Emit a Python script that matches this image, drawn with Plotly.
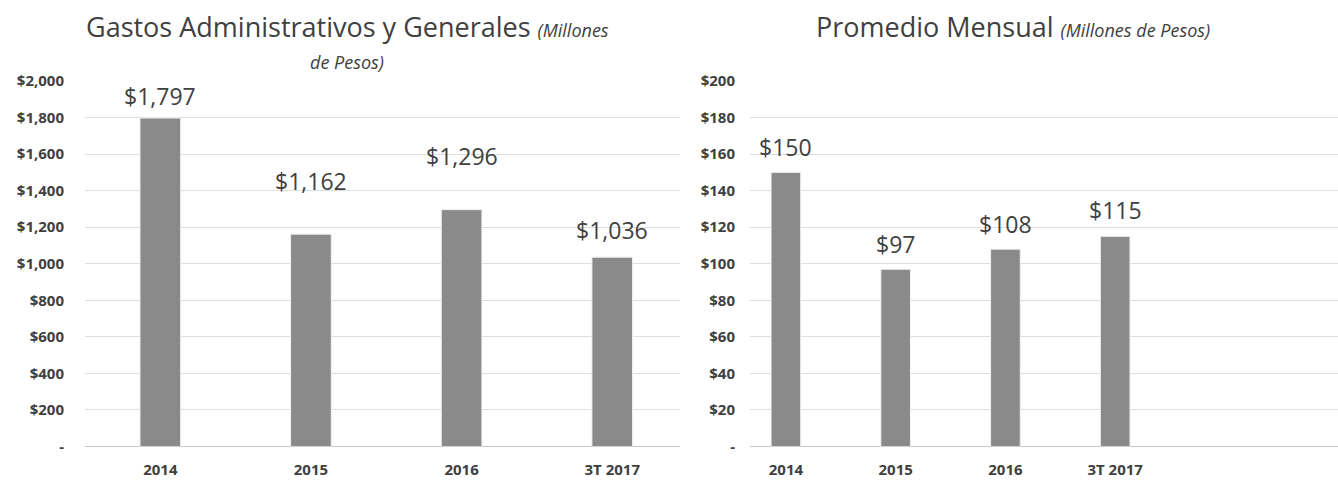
import plotly.graph_objects as go

# data
periods = ['2014', '2015', '2016', '3T 2017']
gastos = [1797, 1162, 1296, 1036]
promedio = [150, 97, 108, 115]
gastos_labels = ['$1,797', '$1,162', '$1,296', '$1,036']
promedio_labels = ['$150', '$97', '$108', '$115']

gastos_ticks = [0, 200, 400, 600, 800, 1000, 1200, 1400, 1600, 1800, 2000]
gastos_ticktext = ['-', '$200', '$400', '$600', '$800', '$1,000', '$1,200',
                   '$1,400', '$1,600', '$1,800', '$2,000']
promedio_ticks = [0, 20, 40, 60, 80, 100, 120, 140, 160, 180, 200]
promedio_ticktext = ['-', '$20', '$40', '$60', '$80', '$100', '$120',
                     '$140', '$160', '$180', '$200']

BAR = '#8a8a8a'
TEXT = '#404040'
GRID = '#dedede'
FONT = 'Open Sans'

fig = go.Figure()
fig.add_trace(go.Bar(x=periods, y=gastos, marker_color=BAR,
                     marker_line=dict(color='#f0f0f0', width=1),
                     xaxis='x', yaxis='y', showlegend=False))
fig.add_trace(go.Bar(x=periods, y=promedio, marker_color=BAR,
                     marker_line=dict(color='#f0f0f0', width=1),
                     xaxis='x2', yaxis='y2', showlegend=False))

# value labels (pixel offsets above the bar tops, as in the reference)
left_shift = [22, 53, 54, 27]
right_shift = [25, 25, 25, 26]
annotations = []
for i, (v, t, s) in enumerate(zip(gastos, gastos_labels, left_shift)):
    annotations.append(dict(x=i, y=v, xref='x', yref='y', text=t, showarrow=False,
                            yanchor='middle', yshift=s,
                            font=dict(size=23, color=TEXT, family=FONT)))
for i, (v, t, s) in enumerate(zip(promedio, promedio_labels, right_shift)):
    annotations.append(dict(x=i, y=v, xref='x2', yref='y2', text=t, showarrow=False,
                            yanchor='middle', yshift=s,
                            font=dict(size=23, color=TEXT, family=FONT)))

# titles
title_font = dict(size=27, color=TEXT, family=FONT)
annotations.append(dict(
    x=347 / 1338, y=1 - 16 / 480, xref='paper', yref='paper', showarrow=False,
    xanchor='center', yanchor='middle',
    text="Gastos Administrativos y Generales <i><span style='font-size:18px'>(Millones</span></i>",
    font=title_font))
annotations.append(dict(
    x=347 / 1338, y=1 - 53 / 480, xref='paper', yref='paper', showarrow=False,
    xanchor='center', yanchor='middle',
    text="<i>de Pesos)</i>",
    font=dict(size=18, color=TEXT, family=FONT)))
annotations.append(dict(
    x=1013 / 1338, y=1 - 16 / 480, xref='paper', yref='paper', showarrow=False,
    xanchor='center', yanchor='middle',
    text="Promedio Mensual <i><span style='font-size:18px'>(Millones de Pesos)</span></i>",
    font=title_font))

ydom = [(480 - 454.5) / 480, (480 - 73) / 480]
tickfont = dict(size=15, color=TEXT, family=FONT, weight='bold')

fig.update_layout(
    width=1338, height=480,
    margin=dict(l=0, r=0, t=0, b=0),
    plot_bgcolor='white', paper_bgcolor='white',
    bargap=0.73,
    annotations=annotations,
    xaxis=dict(type='category', domain=[85 / 1338, 680 / 1338], range=[-0.5, 3.45],
               showgrid=False, tickfont=tickfont, ticks='', ticklabelstandoff=12,
               showline=False),
    yaxis=dict(domain=ydom, range=[0, 2000], tickvals=gastos_ticks,
               ticktext=gastos_ticktext, gridcolor=GRID, gridwidth=1,
               zeroline=True, zerolinecolor='#c8c8c8', zerolinewidth=1,
               tickfont=tickfont, ticklabelstandoff=20),
    xaxis2=dict(type='category', domain=[750 / 1338, 1], range=[-0.327, 5.03], anchor='y2',
                showgrid=False, tickfont=tickfont, ticks='', ticklabelstandoff=12,
                showline=False),
    yaxis2=dict(domain=ydom, range=[0, 200], anchor='x2', tickvals=promedio_ticks,
                ticktext=promedio_ticktext, gridcolor=GRID, gridwidth=1,
                zeroline=True, zerolinecolor='#c8c8c8', zerolinewidth=1,
                tickfont=tickfont, ticklabelstandoff=14),
)

fig.write_html("out.html", config={'displayModeBar': False},
               post_script="document.body.style.margin='0';")
